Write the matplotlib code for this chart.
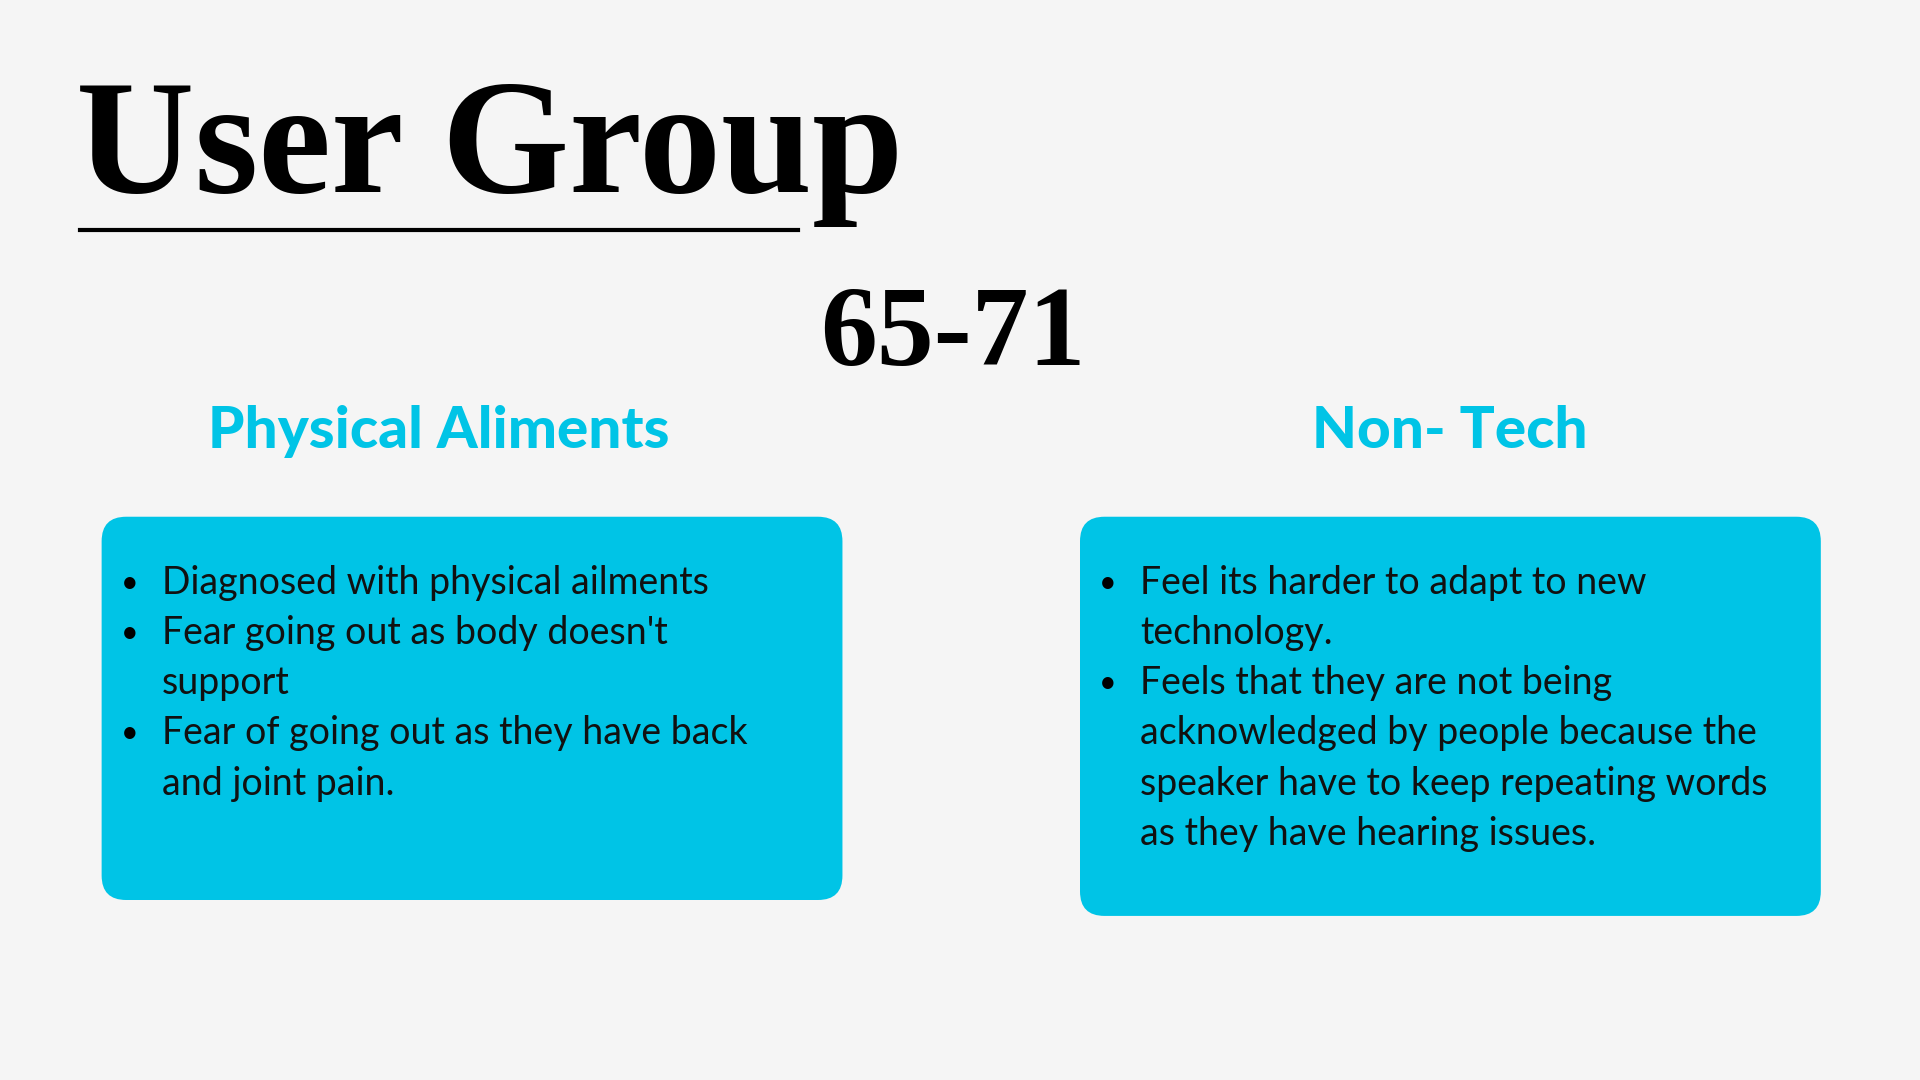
import matplotlib
matplotlib.use("Agg")
import matplotlib.pyplot as plt
from matplotlib.patches import FancyBboxPatch

# reference was laid out on a 1568x882 canvas
W, H = 1568, 882
BG = "#f5f5f5"
CYAN = "#00c4e6"

title = "User Group"
age = "65-71"
headings = ["Physical Aliments", "Non- Tech"]
bullets = [
    [["Diagnosed with physical ailments"],
     ["Fear going out as body doesn't", "support"],
     ["Fear of going out as they have back", "and joint pain."]],
    [["Feel its harder to adapt to new", "technology."],
     ["Feels that they are not being", "acknowledged by people because the",
      "speaker have to keep repeating words", "as they have hearing issues."]],
]

fig = plt.figure(figsize=(19.2, 10.8), dpi=100, facecolor=BG)
ax = fig.add_axes([0, 0, 1, 1])
ax.set_xlim(0, W)
ax.set_ylim(H, 0)
ax.axis("off")

ax.text(62, 157, title, fontsize=118, fontweight="bold",
        family="Liberation Serif", va="baseline", ha="left")
ax.plot([65, 652], [188, 188], color="black", lw=3)
ax.text(778, 298, age, fontsize=82, fontweight="bold",
        family="Liberation Serif", va="baseline", ha="center")

boxes = [(83, 422, 688, 735), (882, 422, 1487, 748)]
head_x = [358, 1184]
for i, (x0, y0, x1, y1) in enumerate(boxes):
    ax.text(head_x[i], 352, headings[i], fontsize=42, fontweight="black",
            family="Lato", color=CYAN, ha="center", va="center")
    r = 20
    ax.add_patch(FancyBboxPatch((x0 + r, y0 + r), x1 - x0 - 2 * r, y1 - y0 - 2 * r,
                                boxstyle=f"round,pad={r}", facecolor=CYAN,
                                edgecolor="none"))
    line = 0
    for item in bullets[i]:
        for j, txt in enumerate(item):
            y = 476 + 41 * line
            if j == 0:
                ax.text(x0 + 23, y, "•", fontsize=22, family="Lato",
                        ha="center", va="center")
            ax.text(x0 + 49, y, txt, fontsize=27, family="Lato",
                    ha="left", va="center", color="#111111")
            line += 1

fig.savefig("out.png", dpi=100, facecolor=BG)
